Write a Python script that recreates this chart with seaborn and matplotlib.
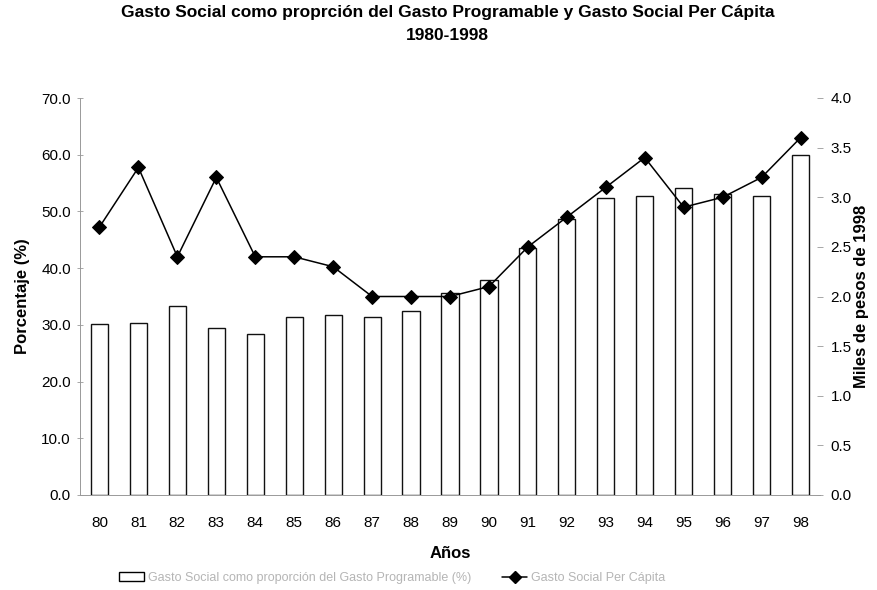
import matplotlib
matplotlib.use("Agg")
import matplotlib.pyplot as plt
import seaborn as sns
import pandas as pd
import numpy as np
from matplotlib.patches import Patch
from matplotlib.lines import Line2D

years = ["80", "81", "82", "83", "84", "85", "86", "87", "88", "89",
         "90", "91", "92", "93", "94", "95", "96", "97", "98"]
gasto_social_pct = [30.1, 30.4, 33.4, 29.4, 28.3, 31.4, 31.7, 31.3, 32.5, 35.6,
                    37.9, 43.5, 48.6, 52.3, 52.8, 54.1, 53.1, 52.8, 60.0]
per_capita = [2.7, 3.3, 2.4, 3.2, 2.4, 2.4, 2.3, 2.0, 2.0, 2.0,
              2.1, 2.5, 2.8, 3.1, 3.4, 2.9, 3.0, 3.2, 3.6]
left_ticks = [0, 10, 20, 30, 40, 50, 60, 70]
right_ticks = [0.0, 0.5, 1.0, 1.5, 2.0, 2.5, 3.0, 3.5, 4.0]
label_bar = "Gasto Social como proporción del Gasto Programable (%)"
label_line = "Gasto Social Per Cápita"

df = pd.DataFrame({"year": years, "pct": gasto_social_pct, "pc": per_capita})

sns.set_style("white")
plt.rcParams["font.family"] = ["Liberation Sans", "DejaVu Sans"]
plt.rcParams["text.color"] = "black"
plt.rcParams["axes.labelcolor"] = "black"
plt.rcParams["xtick.color"] = "black"
plt.rcParams["ytick.color"] = "black"

fig = plt.figure(figsize=(8.78, 5.90), dpi=100)
ax = fig.add_axes([80 / 878, 1 - 495 / 590, (820 - 80) / 878, (495 - 98) / 590])

sns.barplot(data=df, x="year", y="pct", color="white", edgecolor="#111111",
            linewidth=1.0, width=0.44, ax=ax)
ax.set_ylim(0, 70)
ax.set_xlim(-0.5, len(years) - 0.5)
ax.set_yticks(left_ticks)
ax.set_yticklabels([f"{v:.1f}" for v in left_ticks], fontsize=11)
ax.set_xticks(np.arange(len(years) - 1) + 0.5, minor=True)
ax.tick_params(axis="x", which="major", labelsize=11, length=0, pad=15)
ax.tick_params(axis="x", which="minor", length=4, width=0.6, color="#999999",
               direction="inout")
ax.tick_params(axis="y", length=5, width=0.6, color="#999999", labelcolor="black",
               direction="inout", pad=4)
ax.set_xlabel("Años", fontsize=12, fontweight="bold", labelpad=12)
ax.set_ylabel("Porcentaje (%)", fontsize=12, fontweight="bold", labelpad=8)

ax2 = ax.twinx()
sns.lineplot(x=list(range(len(years))), y=df["pc"], ax=ax2, color="black",
             marker="D", markersize=7, linewidth=1.1, markeredgecolor="black")
ax2.set_ylim(0, 4.0)
ax2.set_yticks(right_ticks)
ax2.set_yticklabels([f"{v:.1f}" for v in right_ticks], fontsize=11)
ax2.tick_params(axis="y", length=5, width=0.6, color="#999999", labelcolor="black",
                direction="inout", pad=5)
ax2.set_ylabel("Miles de pesos de 1998", fontsize=12, fontweight="bold", labelpad=2)

for a in (ax, ax2):
    a.spines["top"].set_visible(False)
    a.spines["right"].set_visible(False)
    for s in ("left", "bottom"):
        a.spines[s].set_color("#999999")
        a.spines[s].set_linewidth(0.7)
ax2.spines["left"].set_visible(False)
ax2.spines["bottom"].set_visible(False)

fig.text(0.51, 1 - 13 / 590,
         "Gasto Social como proprción del Gasto Programable y Gasto Social Per Cápita",
         ha="center", va="center", fontsize=12.5, fontweight="bold")
fig.text(0.51, 1 - 35 / 590, "1980-1998", ha="center", va="center",
         fontsize=12.5, fontweight="bold")

handles = [Patch(facecolor="white", edgecolor="black", linewidth=1.0),
           Line2D([0], [0], color="black", marker="D", markersize=6, linewidth=1.1)]
leg = fig.legend(handles, [label_bar, label_line], loc="center",
                 bbox_to_anchor=(392 / 878, 1 - 578 / 590), ncol=2, frameon=False,
                 fontsize=9, handlelength=2.0, columnspacing=2.5, handletextpad=0.3)
for t in leg.get_texts():
    t.set_color("#b5b5b5")

fig.savefig("out.png", dpi=100, facecolor="white")
